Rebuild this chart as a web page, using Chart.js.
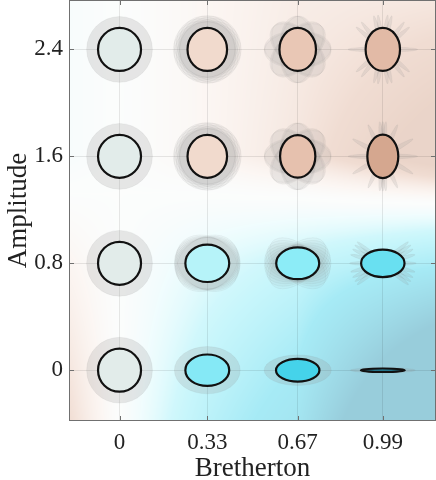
<!DOCTYPE html>
<html>
<head>
<meta charset="utf-8">
<script src="https://cdn.jsdelivr.net/npm/chart.js@4/dist/chart.umd.min.js"></script>
<style>
  html, body { margin: 0; padding: 0; background: #fff; }
</style>
</head>
<body>
<canvas id="mycanvas" width="436" height="480"></canvas>
<script>
// grid of runs
var bretherton = [0, 0.33, 0.67, 0.99];
var amplitude = [0, 0.8, 1.6, 2.4];
var xTickLabels = ['0', '0.33', '0.67', '0.99'];
var yTickLabels = ['0', '0.8', '1.6', '2.4'];

// mean shape semi-axes (rest radius = 1), one row per amplitude
var meanAxisX = [
  [1, 1.02, 1.01, 1.02],
  [1, 1.02, 1.00, 1.01],
  [1, 0.92, 0.82, 0.72],
  [1, 0.92, 0.85, 0.80]
];
var meanAxisY = [
  [1, 0.73, 0.53, 0.08],
  [1, 0.87, 0.74, 0.64],
  [1, 1.00, 0.99, 1.01],
  [1, 1.00, 1.00, 1.00]
];

// envelope of the instantaneous shapes: semi-axes and orientations (deg)
var haloAxisX = [
  [1.53, 1.53, 1.56, 1.51],
  [1.53, 1.53, 1.55, 1.55],
  [1.53, 1.58, 1.55, 1.62],
  [1.53, 1.58, 1.55, 1.62]
];
var haloAxisY = [
  [1.53, 1.10, 0.71, 0.12],
  [1.53, 1.20, 0.84, 0.12],
  [1.53, 1.28, 0.84, 0.12],
  [1.53, 1.28, 0.84, 0.12]
];
var haloAngles = [
  [[0], [0], [0], [0]],
  [[0], [-35, -23, -12, 0, 12, 23, 35], [-40, -30, -20, -10, 0, 10, 20, 30, 40], [-40, -33, -25, -15, 0, 15, 25, 33, 40]],
  [[0], [0, 22, 45, 67, 90, 112, 135, 157], [-4, 0, 4, 41, 45, 49, 86, 90, 94, 131, 135, 139], [0, 30, 65, 85, 90, 95, 115, 150]],
  [[0], [0, 22, 45, 67, 90, 112, 135, 157], [-4, 0, 4, 41, 45, 49, 86, 90, 94, 131, 135, 139], [0, 40, 52, 75, 82, 98, 105, 128, 140]]
];

var R = 21.5;
var FONT = "'Liberation Serif', 'Times New Roman', serif";

// deformation -> colour (cyan = flattened, brown = stretched)
var cmapStops = [
  [-0.8, [40, 150, 180]],
  [-0.3, [70, 212, 235]],
  [-0.15, [140, 236, 247]],
  [-0.05, [200, 246, 250]],
  [0, [226, 236, 234]],
  [0.04, [241, 219, 206]],
  [0.1, [229, 190, 170]],
  [0.17, [212, 166, 142]]
];
function cmap(d) {
  if (d <= cmapStops[0][0]) return cmapStops[0][1];
  for (var k = 1; k < cmapStops.length; k++) {
    if (d <= cmapStops[k][0]) {
      var a = cmapStops[k - 1], b = cmapStops[k];
      var t = (d - a[0]) / (b[0] - a[0]);
      return [0, 1, 2].map(function(j) { return a[1][j] + t * (b[1][j] - a[1][j]); });
    }
  }
  return cmapStops[cmapStops.length - 1][1];
}
function deform(r, c) {
  var a = meanAxisX[r][c], b = meanAxisY[r][c];
  return (b - a) / (b + a);
}
function toIndex(v, arr) {
  var i = v < arr[1] ? 0 : (v < arr[2] ? 1 : 2);
  return i + (v - arr[i]) / (arr[i + 1] - arr[i]);
}
function fieldAt(fx, fy) {
  var i = Math.min(Math.max(Math.floor(fx), 0), 2), j = Math.min(Math.max(Math.floor(fy), 0), 2);
  var tx = fx - i, ty = fy - j;
  var lo = deform(j, i) + tx * (deform(j, i + 1) - deform(j, i));
  var hi = deform(j + 1, i) + tx * (deform(j + 1, i + 1) - deform(j + 1, i));
  return lo + ty * (hi - lo);
}

var points = [];
for (var r = 0; r < amplitude.length; r++) {
  for (var c = 0; c < bretherton.length; c++) {
    points.push({ x: bretherton[c], y: amplitude[r] });
  }
}

var backgroundField = {
  id: 'backgroundField',
  beforeDraw: function(chart) {
    var a = chart.chartArea, xs = chart.scales.x, ys = chart.scales.y;
    var w = Math.round(a.right - a.left), h = Math.round(a.bottom - a.top);
    var off = document.createElement('canvas');
    off.width = w; off.height = h;
    var octx = off.getContext('2d');
    var img = octx.createImageData(w, h);
    for (var py = 0; py < h; py++) {
      var fy = toIndex(ys.getValueForPixel(a.top + py + 0.5), amplitude);
      for (var px = 0; px < w; px++) {
        var fx = toIndex(xs.getValueForPixel(a.left + px + 0.5), bretherton);
        var d = fieldAt(fx, fy);
        var col = cmap(d);
        var f = 0.12 + 0.36 * Math.min(1, Math.abs(d) / 0.12);
        var k = (py * w + px) * 4;
        img.data[k] = 255 - f * (255 - col[0]);
        img.data[k + 1] = 255 - f * (255 - col[1]);
        img.data[k + 2] = 255 - f * (255 - col[2]);
        img.data[k + 3] = 255;
      }
    }
    octx.putImageData(img, 0, 0);
    chart.ctx.drawImage(off, a.left, a.top, w, h);
  }
};

var dropShapes = {
  id: 'dropShapes',
  afterDatasetsDraw: function(chart) {
    var ctx = chart.ctx;
    var els = chart.getDatasetMeta(0).data;
    ctx.save();
    els.forEach(function(el, i) {
      var r = Math.floor(i / bretherton.length), c = i % bretherton.length;
      var angles = haloAngles[r][c];
      var thin = haloAxisY[r][c] < 0.2;
      var alpha = angles.length === 1 ? 0.22 : (thin ? 0.16 : 0.055);
      angles.forEach(function(deg) {
        ctx.beginPath();
        ctx.ellipse(el.x, el.y, haloAxisX[r][c] * R, Math.max(haloAxisY[r][c] * R, 0.8), -deg * Math.PI / 180, 0, Math.PI * 2);
        ctx.fillStyle = 'rgba(150,150,150,' + alpha + ')';
        ctx.fill();
        ctx.lineWidth = 0.5;
        ctx.strokeStyle = 'rgba(110,110,110,0.14)';
        ctx.stroke();
      });
      var col = cmap(deform(r, c));
      ctx.beginPath();
      ctx.ellipse(el.x, el.y, meanAxisX[r][c] * R, meanAxisY[r][c] * R, 0, 0, Math.PI * 2);
      ctx.fillStyle = 'rgb(' + col.map(Math.round).join(',') + ')';
      ctx.fill();
      ctx.lineWidth = 2.2;
      ctx.strokeStyle = '#111';
      ctx.stroke();
    });
    ctx.restore();
  }
};

var frameBox = {
  id: 'frameBox',
  afterDraw: function(chart) {
    var ctx = chart.ctx, a = chart.chartArea;
    ctx.save();
    ctx.strokeStyle = '#707070';
    ctx.lineWidth = 1;
    ctx.strokeRect(a.left + 0.5, a.top + 0.5, a.right - a.left - 1, a.bottom - a.top - 1);
    ctx.beginPath();
    chart.scales.x.ticks.forEach(function(t) {
      var px = Math.round(chart.scales.x.getPixelForValue(t.value)) + 0.5;
      ctx.moveTo(px, a.bottom); ctx.lineTo(px, a.bottom - 5);
      ctx.moveTo(px, a.top); ctx.lineTo(px, a.top + 5);
    });
    chart.scales.y.ticks.forEach(function(t) {
      var py = Math.round(chart.scales.y.getPixelForValue(t.value)) + 0.5;
      ctx.moveTo(a.left, py); ctx.lineTo(a.left + 5, py);
      ctx.moveTo(a.right, py); ctx.lineTo(a.right - 5, py);
    });
    ctx.stroke();
    ctx.restore();
  }
};

function noPadding(s) {
  s.paddingTop = 0; s.paddingBottom = 0; s.paddingLeft = 0; s.paddingRight = 0;
}

var ctx = document.getElementById('mycanvas');
var chart = new Chart(ctx, {
  type: 'scatter',
  data: {
    datasets: [{
      data: points,
      pointRadius: 0,
      pointHoverRadius: 0
    }]
  },
  options: {
    responsive: false,
    animation: false,
    layout: { padding: { top: 0, right: 0, left: 0, bottom: 0 } },
    plugins: { legend: { display: false }, tooltip: { enabled: false } },
    scales: {
      x: {
        type: 'linear',
        min: -0.19,
        max: 1.19,
        afterBuildTicks: function(s) { s.ticks = bretherton.map(function(v) { return { value: v }; }); },
        afterFit: function(s) { s.height = 59; noPadding(s); },
        ticks: {
          callback: function(v, i) { return xTickLabels[i]; },
          font: { family: FONT, size: 23 },
          color: '#222',
          padding: 8,
          maxRotation: 0
        },
        grid: { color: 'rgba(0,0,0,0.09)', drawTicks: false },
        border: { display: false },
        title: { display: true, text: 'Bretherton', font: { family: FONT, size: 27, lineHeight: 0.8 }, color: '#222', padding: 0 }
      },
      y: {
        type: 'linear',
        min: -0.38,
        max: 2.77,
        afterBuildTicks: function(s) { s.ticks = amplitude.map(function(v) { return { value: v }; }); },
        afterFit: function(s) { s.width = 69; noPadding(s); },
        ticks: {
          callback: function(v, i) { return yTickLabels[i]; },
          font: { family: FONT, size: 23 },
          color: '#222',
          padding: 6
        },
        grid: { color: 'rgba(0,0,0,0.09)', drawTicks: false },
        border: { display: false },
        title: { display: true, text: 'Amplitude', font: { family: FONT, size: 27, lineHeight: 1.4 }, color: '#222', padding: 0 }
      }
    }
  },
  plugins: [backgroundField, dropShapes, frameBox]
});
</script>
</body>
</html>
